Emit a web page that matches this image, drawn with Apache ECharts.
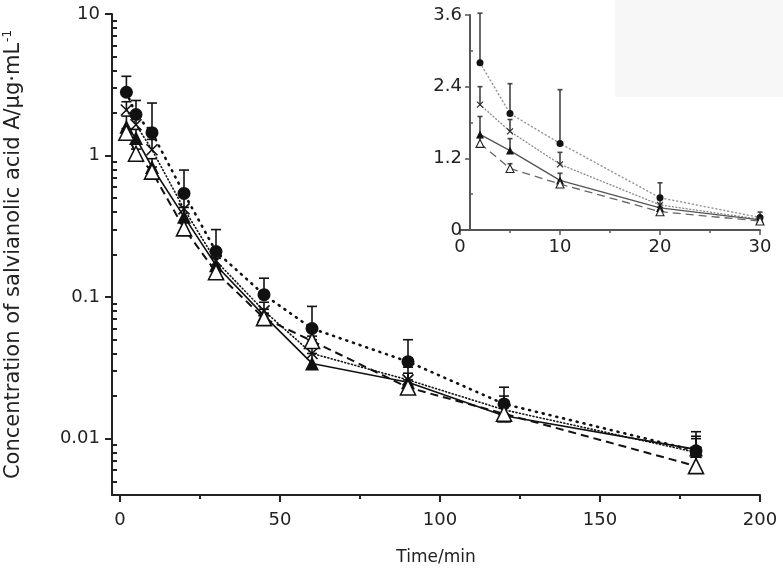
<!DOCTYPE html>
<html>
<head>
<meta charset="utf-8">
<script src="https://cdn.jsdelivr.net/npm/echarts@6/dist/echarts.min.js"></script>
<style>
  html, body { margin: 0; padding: 0; background: #fff; }
  #chart { width: 783px; height: 578px; }
</style>
</head>
<body>
<div id="chart"></div>
<script>
// sampling times (min)
const times = [2, 5, 10, 20, 30, 45, 60, 90, 120, 180]
// mean concentrations, one array per group
const circleVals = [2.8, 1.95, 1.45, 0.54, 0.21, 0.104, 0.060, 0.035, 0.0176, 0.0082]
const crossVals = [2.1, 1.65, 1.1, 0.42, 0.18, 0.08, 0.04, 0.026, 0.016, 0.008]
const triVals = [1.6, 1.33, 0.83, 0.37, 0.168, 0.074, 0.034, 0.025, 0.0145, 0.0084]
const openVals = [1.45, 1.03, 0.77, 0.306, 0.15, 0.071, 0.049, 0.023, 0.015, 0.0064]
// upper error (SD)
const circleErr = [0.83, 0.5, 0.9, 0.25, 0.09, 0.032, 0.026, 0.015, 0.0055, 0.003]
const crossErr = [0.3, 0.2, 0.2, 0.1, 0.04, 0.012, 0.01, 0.006, 0.004, 0.002]
const triErr = [0.3, 0.2, 0.12, 0.06, 0.02, 0.008, 0.006, 0.004, 0.003, 0.002]
const openErr = [0.1, 0.08, 0.06, 0.03, 0.01, 0.006, 0.004, 0.003, 0.002, 0.001]
// axis ticks
const mainXTicks = [0, 50, 100, 150, 200]
const mainXMinor = [25, 75, 125, 175]
const mainYTicks = [0.01, 0.1, 1, 10]
const mainYMinor = [0.005, 0.006, 0.007, 0.008, 0.009,
  0.02, 0.03, 0.04, 0.05, 0.06, 0.07, 0.08, 0.09,
  0.2, 0.3, 0.4, 0.5, 0.6, 0.7, 0.8, 0.9,
  2, 3, 4, 5, 6, 7, 8, 9]
const insetXTicks = [0, 10, 20, 30]
const insetXMinor = [5, 15, 25]
const insetYTicks = [0, 1.2, 2.4, 3.6]
const insetYMinor = [0.6, 1.8, 3.0]
const insetCount = 5 // first 5 samples (<= 30 min) in the inset

const FONT = 'DejaVu Sans'
const crossPath = 'path://M0,0L10,10M10,0L0,10'

const groups = [
  { name: 'circle', vals: circleVals, err: circleErr, symbol: 'circle', size: 13, fill: '#111', line: 'dotted1', insetColor: '#999' },
  { name: 'cross', vals: crossVals, err: crossErr, symbol: crossPath, size: 11, fill: 'transparent', line: 'dotted2', insetColor: '#888' },
  { name: 'tri', vals: triVals, err: triErr, symbol: 'triangle', size: 14, fill: '#111', line: 'solid', insetColor: '#555' },
  { name: 'open', vals: openVals, err: openErr, symbol: 'triangle', size: 15, fill: '#fff', line: 'dashed', insetColor: '#666' }
]

function lineStyleFor(kind, color, inset) {
  if (kind === 'dotted1') return { color, width: inset ? 1.5 : 2.6, type: [1, inset ? 3 : 6], cap: 'round' }
  if (kind === 'dotted2') return { color, width: inset ? 1.3 : 1.6, type: [1, 2.5], cap: 'round' }
  if (kind === 'dashed') return { color, width: inset ? 1.3 : 2, type: [8, 5] }
  return { color, width: inset ? 1.3 : 1.6, type: 'solid' }
}

function errorSeries(g, xi, yi, n, color, capW) {
  const data = []
  for (let i = 0; i < n; i++) {
    if (g.err[i] > 0) data.push([times[i], g.vals[i], g.vals[i] + g.err[i]])
  }
  return {
    type: 'custom',
    xAxisIndex: xi,
    yAxisIndex: yi,
    z: 3,
    silent: true,
    data: data,
    renderItem(params, api) {
      const lo = api.coord([api.value(0), api.value(1)])
      const hi = api.coord([api.value(0), api.value(2)])
      const st = { stroke: color, lineWidth: 1.6 }
      return {
        type: 'group',
        children: [
          { type: 'line', shape: { x1: lo[0], y1: lo[1], x2: hi[0], y2: hi[1] }, style: st },
          { type: 'line', shape: { x1: hi[0] - capW, y1: hi[1], x2: hi[0] + capW, y2: hi[1] }, style: st }
        ]
      }
    }
  }
}

const series = []
groups.forEach(g => {
  // main plot
  series.push(errorSeries(g, 0, 0, times.length, '#111', 5))
  series.push({
    name: g.name,
    type: 'line',
    xAxisIndex: 0,
    yAxisIndex: 0,
    z: 4,
    data: times.map((t, i) => [t, g.vals[i]]),
    symbol: g.symbol,
    symbolSize: g.size,
    showAllSymbol: true,
    lineStyle: lineStyleFor(g.line, '#111', false),
    itemStyle: { color: g.fill, borderColor: '#111', borderWidth: g.fill === '#111' ? 0 : 1.6, opacity: 1 }
  })
  // inset
  series.push(errorSeries(g, 2, 2, insetCount, '#444', 2.5))
  series.push({
    name: g.name + '-inset',
    type: 'line',
    xAxisIndex: 2,
    yAxisIndex: 2,
    z: 4,
    data: times.slice(0, insetCount).map((t, i) => [t, g.vals[i]]),
    symbol: g.symbol,
    symbolSize: Math.round(g.size * 0.55),
    showAllSymbol: true,
    lineStyle: lineStyleFor(g.line, g.insetColor, true),
    itemStyle: { color: g.fill, borderColor: '#222', borderWidth: g.fill === '#111' ? 0 : 1.1, opacity: 1 }
  })
})

const axisColor = '#222'
const labelStyle = { color: '#222', fontFamily: FONT, fontSize: 18 }

const chart = echarts.init(document.getElementById('chart'))
chart.setOption({
  animation: false,
  backgroundColor: '#fff',
  graphic: [{
    type: 'rect', z: -10, left: 615, top: 0,
    shape: { width: 168, height: 97 },
    style: { fill: '#f7f7f7' }
  }],
  grid: [
    { left: 112, right: 23, top: 14, bottom: 83, outerBoundsMode: 'none' },
    { left: 460, right: 23, top: 15, bottom: 348, outerBoundsMode: 'none' }
  ],
  xAxis: [
    {
      type: 'value', gridIndex: 0, min: -2.5, max: 200, position: 'bottom',
      name: 'Time/min', nameLocation: 'middle', nameGap: 54,
      nameTextStyle: { color: '#222', fontFamily: FONT, fontSize: 17 },
      axisLine: { onZero: false, lineStyle: { color: axisColor, width: 2 } },
      axisTick: { customValues: mainXTicks, length: 7, lineStyle: { color: axisColor, width: 2 } },
      axisLabel: { customValues: mainXTicks, margin: 16, ...labelStyle },
      splitLine: { show: false }
    },
    {
      type: 'value', gridIndex: 0, min: -2.5, max: 200, position: 'bottom',
      axisLine: { show: false, onZero: false },
      axisTick: { customValues: mainXMinor, length: 4, lineStyle: { color: axisColor, width: 2 } },
      axisLabel: { show: false },
      splitLine: { show: false }
    },
    {
      type: 'value', gridIndex: 1, min: 0, max: 30, position: 'bottom',
      axisLine: { onZero: false, lineStyle: { color: '#555', width: 2 } },
      axisTick: { customValues: insetXTicks, length: 5, lineStyle: { color: '#555', width: 1.5 } },
      axisLabel: { customValues: insetXTicks, margin: 8, ...labelStyle },
      splitLine: { show: false }
    },
    {
      type: 'value', gridIndex: 1, min: 0, max: 30, position: 'bottom',
      axisLine: { show: false, onZero: false },
      axisTick: { customValues: insetXMinor, length: 3, lineStyle: { color: '#555', width: 1.5 } },
      axisLabel: { show: false },
      splitLine: { show: false }
    }
  ],
  yAxis: [
    {
      type: 'log', gridIndex: 0, min: 0.004, max: 10, logBase: 10, position: 'left',
      name: 'Concentration of salvianolic acid A/μg·mL{sup|-1}',
      nameLocation: 'middle', nameGap: 86,
      nameTextStyle: {
        color: '#222', fontFamily: FONT, fontSize: 21,
        rich: { sup: { fontSize: 12, fontFamily: FONT, color: '#222', padding: [0, 0, 12, 1] } }
      },
      axisLine: { onZero: false, lineStyle: { color: axisColor, width: 2 } },
      axisTick: { customValues: mainYTicks, length: 7, lineStyle: { color: axisColor, width: 2 } },
      axisLabel: { customValues: mainYTicks, margin: 12, ...labelStyle },
      splitLine: { show: false }
    },
    {
      type: 'log', gridIndex: 0, min: 0.004, max: 10, logBase: 10, position: 'left',
      axisLine: { show: false, onZero: false },
      axisTick: { customValues: mainYMinor, inside: true, length: 5, lineStyle: { color: axisColor, width: 2 } },
      axisLabel: { show: false },
      splitLine: { show: false }
    },
    {
      type: 'value', gridIndex: 1, min: 0, max: 3.6, offset: -10, position: 'left',
      axisLine: { onZero: false, lineStyle: { color: '#555', width: 2 } },
      axisTick: { customValues: insetYTicks, length: 5, lineStyle: { color: '#555', width: 1.5 } },
      axisLabel: { customValues: insetYTicks, margin: 8, ...labelStyle },
      splitLine: { show: false }
    },
    {
      type: 'value', gridIndex: 1, min: 0, max: 3.6, offset: -10, position: 'left',
      axisLine: { show: false, onZero: false },
      axisTick: { customValues: insetYMinor, inside: true, length: 3, lineStyle: { color: '#555', width: 1.5 } },
      axisLabel: { show: false },
      splitLine: { show: false }
    }
  ],
  series: series
})
</script>
</body>
</html>
